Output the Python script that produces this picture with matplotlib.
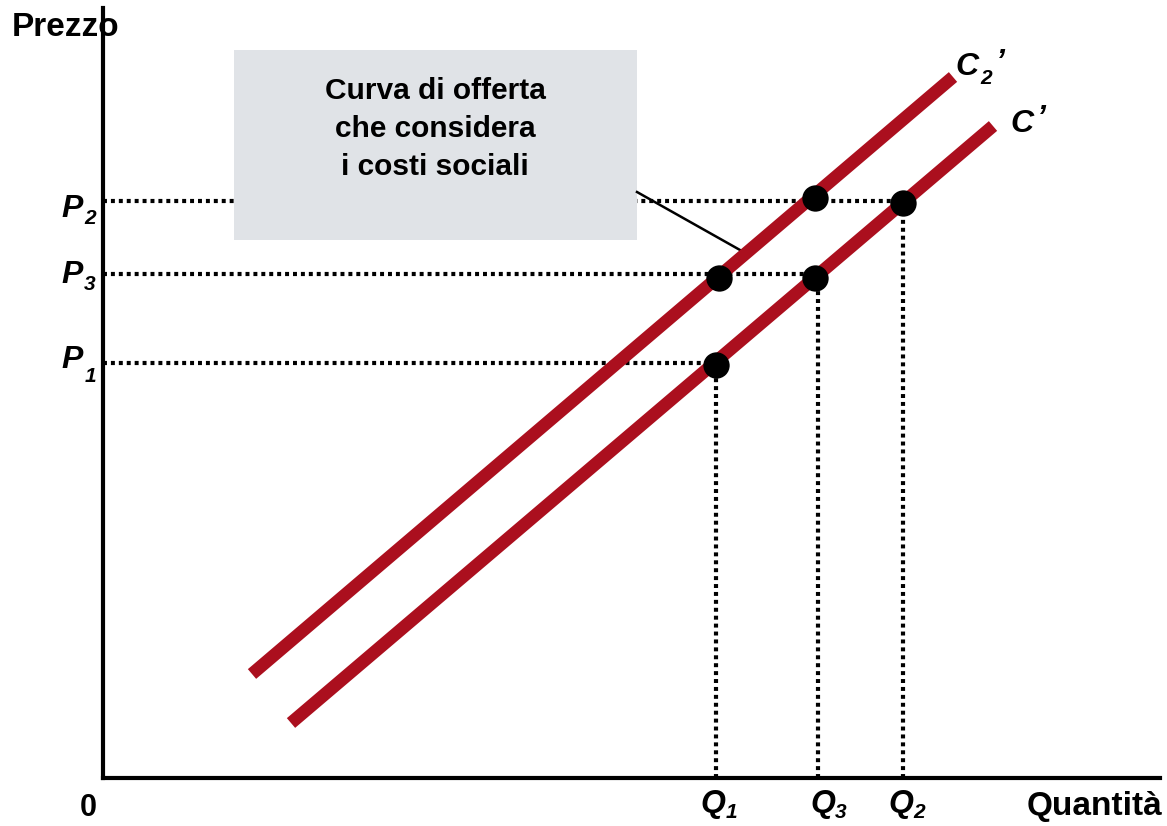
import matplotlib
matplotlib.use("Agg")
import matplotlib.pyplot as plt
from matplotlib.patches import Rectangle

plt.rcParams['font.family'] = ['Liberation Sans', 'DejaVu Sans']

# ---- data (units: horizontal / vertical distance from the origin) ----
q_labels = ["1", "3", "2"]
q_values = [613, 715, 800]          # Q1, Q3, Q2
p_labels = ["2", "3", "1"]
p_values = [577, 504, 415]          # P2, P3, P1
p_ends = [800, 715, 613]            # horizontal guides end at these quantities
q_ends = [415, 504, 577]            # vertical guides end at these prices

c2_x = [149, 850]                   # curve C2'
c2_y = [104, 701]
c1_x = [188, 890]                   # curve C'
c1_y = [55, 652]

dot_x = [616, 712, 800, 712, 613]
dot_y = [500, 580, 575, 500, 413]

box_text = "Curva di offerta\nche considera\ni costi sociali"

RED = '#AB0F1E'

fig = plt.figure(figsize=(11.67, 8.26), dpi=100)
W, H = 1167, 826
ax = fig.add_axes([103 / W, 48 / H, 1057 / W, 770 / H])
ax.set_xlim(0, 1057)
ax.set_ylim(0, 770)
for s in ['top', 'right']:
    ax.spines[s].set_visible(False)
for s in ['left', 'bottom']:
    ax.spines[s].set_linewidth(3)
    ax.spines[s].set_zorder(6)
ax.set_xticks([])
ax.set_yticks([])

dot_style = dict(color='black', lw=3.0, linestyle=(0, (0.95, 0.95)), zorder=2)
for p, e in zip(p_values, p_ends):
    ax.plot([0, e], [p, p], **dot_style)
for q, e in zip(q_values, q_ends):
    ax.plot([q, q], [0, e], **dot_style)

# grey annotation box
ax.add_patch(Rectangle((131, 538), 403, 190, facecolor='#E0E3E7',
                       edgecolor='none', zorder=3))
ax.text(332, 649, box_text, ha='center', va='center', fontsize=21.5,
        fontweight='bold', linespacing=1.45, zorder=4)
ax.plot([534, 637], [586, 528], color='black', lw=1.8, zorder=3)

# curves
ax.plot(c2_x, c2_y, color=RED, lw=9.2, solid_capstyle='butt', zorder=4)
ax.plot(c1_x, c1_y, color=RED, lw=9.2, solid_capstyle='butt', zorder=4)

ax.scatter(dot_x, dot_y, s=360, color='black', linewidths=0, zorder=5)

tk = dict(clip_on=False, fontweight='bold', ha='center', va='center')
it = dict(tk, fontstyle='italic')

ax.text(-91, 750, "Prezzo", fontsize=24, **dict(tk, ha='left'))
ax.text(-15, -30, "0", fontsize=22, **tk)
ax.text(1059, -28, "Quantità", fontsize=24, **dict(tk, ha='right'))

p_main_dy = [-8, -1, 3]
p_sub_dy = [-18, -11, -14]
for lab, p, d1, d2 in zip(p_labels, p_values, p_main_dy, p_sub_dy):
    ax.text(-31, p + d1, "P", fontsize=23, **it)
    ax.text(-13, p + d2, lab, fontsize=15, **it)

q_off = [-3, 5, -2]
for lab, q, o in zip(q_labels, q_values, q_off):
    ax.text(q + o, -26, "Q", fontsize=23, **it)
    ax.text(q + o + 18, -34, lab, fontsize=15, **it)

ax.text(c2_x[1] + 14, c2_y[1] + 10, "C", fontsize=23, **it)
ax.text(c2_x[1] + 33, c2_y[1] - 1, "2", fontsize=15, **it)
ax.text(c2_x[1] + 46, c2_y[1] + 14, "’", fontsize=23, **it)
ax.text(c1_x[1] + 29, c1_y[1] + 2, "C", fontsize=23, **it)
ax.text(c1_x[1] + 47, c1_y[1] + 7, "’", fontsize=23, **it)

fig.savefig("out.png", dpi=100)
